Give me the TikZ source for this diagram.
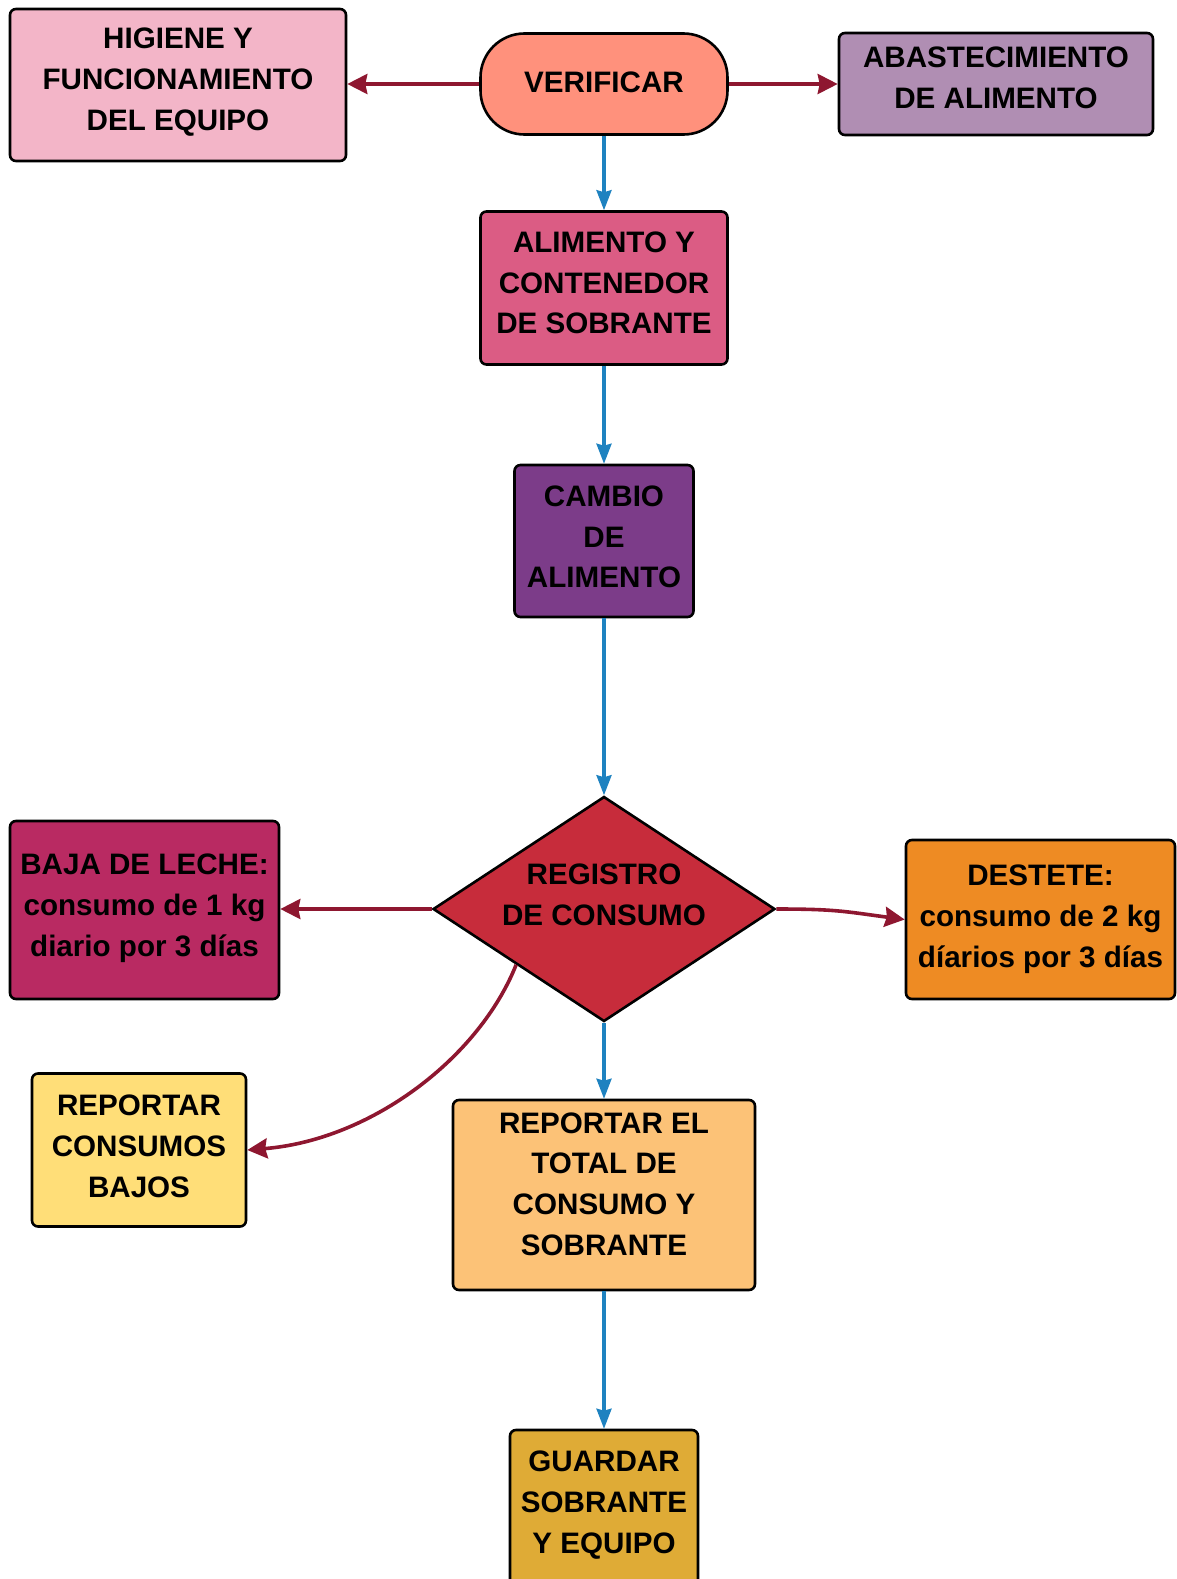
\documentclass[tikz,border=0pt]{standalone}
\usepackage{fontspec}
\setmainfont{Liberation Sans}
\usetikzlibrary{shapes.geometric,arrows.meta,calc}

\definecolor{higiene}{HTML}{F3B5C8}
\definecolor{verif}{HTML}{FF917C}
\definecolor{abast}{HTML}{B08EB3}
\definecolor{alim}{HTML}{DB5C84}
\definecolor{cambio}{HTML}{7C3C89}
\definecolor{regis}{HTML}{C72C3B}
\definecolor{baja}{HTML}{B92A62}
\definecolor{destete}{HTML}{EE8B23}
\definecolor{bajos}{HTML}{FFDE78}
\definecolor{total}{HTML}{FCC277}
\definecolor{guardar}{HTML}{DFAB36}
\definecolor{arrowred}{HTML}{8E1730}
\definecolor{arrowblue}{HTML}{1E82C0}

\begin{document}
\begin{tikzpicture}[x=0.5pt,y=-0.5pt,
  txt/.style={align=center,font=\fontsize{14.8}{20.4}\selectfont\bfseries},
  box/.style={draw=black,line width=1.3pt,rounded corners=3pt,inner sep=0pt},
  redarrow/.style={draw=arrowred,line width=1.8pt,-{Stealth[length=10pt,width=10pt,inset=1pt]}},
  bluearrow/.style={draw=arrowblue,line width=1.6pt,-{Stealth[length=10pt,width=7.5pt,inset=1pt]}}]
\useasboundingbox (0,0) rectangle (1177,1579);

% boxes
\node[box,fill=higiene,minimum width=168pt,minimum height=76pt] (hig) at (178,85) {};
\node[box,fill=verif,minimum width=123.5pt,minimum height=50.5pt,rounded corners=22pt] (ver) at (604,84) {};
\node[box,fill=abast,minimum width=157pt,minimum height=51pt] (aba) at (996,84) {};
\node[box,fill=alim,minimum width=123.5pt,minimum height=76.5pt] (ali) at (604,288) {};
\node[box,fill=cambio,minimum width=89.5pt,minimum height=76pt] (cam) at (604,541) {};
\node[diamond,draw=black,line width=1.3pt,fill=regis,minimum width=171pt,minimum height=112.5pt,
  aspect=1.52,inner sep=0pt] (reg) at (604,909) {};
\node[box,fill=baja,minimum width=134.5pt,minimum height=89pt] (baj) at (144.5,910) {};
\node[box,fill=destete,minimum width=134.5pt,minimum height=79.5pt] (des) at (1040.5,919.5) {};
\node[box,fill=bajos,minimum width=107pt,minimum height=76.5pt] (rcb) at (139,1150) {};
\node[box,fill=total,minimum width=151pt,minimum height=95pt] (tot) at (604,1195) {};
\node[box,fill=guardar,minimum width=94pt,minimum height=81pt] (gua) at (604,1511) {};

% texts
\node[txt] (higt) at (178,82) {HIGIENE Y\\FUNCIONAMIENTO\\DEL EQUIPO};
\node[txt] (vert) at (604,82) {VERIFICAR};
\node[txt] (abat) at (996,77.5) {ABASTECIMIENTO\\DE ALIMENTO};
\node[txt] (alit) at (604,283) {ALIMENTO Y\\CONTENEDOR\\DE SOBRANTE};
\node[txt] (camt) at (604,537) {CAMBIO\\DE\\ALIMENTO};
\node[txt] (regt) at (604,894.5) {REGISTRO\\DE CONSUMO};
\node[txt] (bajt) at (144.5,908) {BAJA DE LECHE:\\consumo de 1 kg\\diario por 3 días};
\node[txt] (dest) at (1040.5,919.5) {DESTETE:\\consumo de 2 kg\\díarios por 3 días};
\node[txt] (rcbt) at (139,1146.5) {REPORTAR\\CONSUMOS\\BAJOS};
\node[txt] (tott) at (604,1184) {REPORTAR EL\\TOTAL DE\\CONSUMO Y\\SOBRANTE};
\node[txt] (guat) at (604,1505) {GUARDAR\\SOBRANTE\\Y EQUIPO};

% connectors
\draw[redarrow] (ver.west) -- (ver.west -| hig.east);
\draw[redarrow] (ver.east) -- (aba.west);
\draw[bluearrow] (ver.south) -- (ali.north);
\draw[bluearrow] (ali.south) -- (cam.north);
\draw[bluearrow] (cam.south) -- (reg.north);
\draw[redarrow] (reg.west) -- (baj.east |- reg.west);
\draw[redarrow] (reg.east) .. controls +(60,0) and +(-60,-8) .. (des.west);
\draw[redarrow] ($(reg.west)!0.49!(reg.south)$) .. controls +(-37,93) and +(124,-10) .. (rcb.east);
\draw[bluearrow] (reg.south) -- (tot.north);
\draw[bluearrow] (tot.south) -- (gua.north);
\end{tikzpicture}
\end{document}
